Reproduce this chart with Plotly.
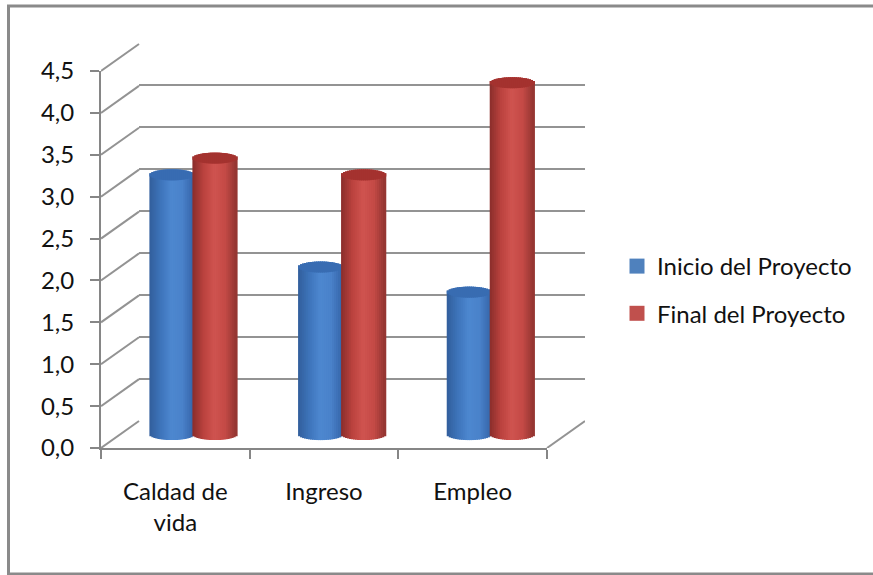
import math
import plotly.graph_objects as go

categories = ["Caldad de<br>vida", "Ingreso", "Empleo"]
inicio = [3.1, 2.0, 1.7]
final = [3.3, 3.1, 4.2]
y_ticks = [0, 0.5, 1, 1.5, 2, 2.5, 3, 3.5, 4, 4.5]

W, H = 873, 575
FONT = "Lato"
FS = 24
GREY = "#868686"
GRID = "#939393"
UX = (547 - 101) / 3        # pixels per category
UY = (448 - 71) / 4.5       # pixels per value unit


def dx(a, b):
    return [a / W, b / W]


def dy(bottom, top):
    return [(H - bottom) / H, (H - top) / H]


def mix(stops, t):
    n = len(stops) - 1
    i = min(int(t * n), n - 1)
    f = t * n - i
    c = [stops[i][k] + (stops[i + 1][k] - stops[i][k]) * f for k in range(3)]
    return "rgb(%d,%d,%d)" % tuple(c)


def cylinder(values, centre, stops, cap):
    """One series as narrow vertical strips, giving a shaded cylinder."""
    N = 22
    bw = 44 / UX
    ry = 5.5 / UY
    xs, bases, heights, colors = [], [], [], []
    cx, cb, ch = [], [], []
    for c, v in enumerate(values):
        for s in range(N):
            t = (s + 0.5) / N
            u = 2 * t - 1
            e = ry * math.sqrt(1 - u * u)
            x = c + centre + u * bw / 2
            xs.append(x)
            bases.append(-e)
            heights.append(v + 2 * e)
            colors.append(mix(stops, t))
            cx.append(x)
            cb.append(v - e)
            ch.append(2 * e)
    w = bw / N * 1.6
    return [
        go.Bar(x=xs, y=heights, base=bases, width=w, xaxis="x3", yaxis="y4",
               marker=dict(color=colors, line=dict(width=0)),
               showlegend=False, hoverinfo="skip"),
        go.Bar(x=cx, y=ch, base=cb, width=w, xaxis="x3", yaxis="y4",
               marker=dict(color=cap, line=dict(width=0)),
               showlegend=False, hoverinfo="skip"),
    ]


BLUE = [(50, 94, 156), (62, 116, 186), (78, 136, 208), (74, 130, 202), (54, 102, 170)]
RED = [(138, 46, 44), (186, 66, 62), (208, 84, 80), (196, 74, 70), (146, 52, 48)]

fig = go.Figure()

# diagonal lines on the side wall and floor
DEPTH_X = (139 - 101) / UX
DEPTH_Y = (448 - 421) / UY
for v in y_ticks:
    fig.add_trace(go.Scatter(x=[0, DEPTH_X], y=[v, v + DEPTH_Y], mode="lines",
                             xaxis="x3", yaxis="y3", showlegend=False, hoverinfo="skip",
                             line=dict(color=GRID, width=2)))
fig.add_trace(go.Scatter(x=[3, 3 + DEPTH_X], y=[0, DEPTH_Y], mode="lines",
                         xaxis="x3", yaxis="y3", showlegend=False, hoverinfo="skip",
                         line=dict(color=GRID, width=2)))

# invisible carriers so the back wall and the front axes get drawn
fig.add_trace(go.Scatter(x=[0], y=[0], mode="markers", marker=dict(opacity=0),
                         showlegend=False, hoverinfo="skip"))
fig.add_trace(go.Scatter(x=[0], y=[0], mode="markers", marker=dict(opacity=0),
                         xaxis="x2", yaxis="y2", showlegend=False, hoverinfo="skip"))

for tr in cylinder(inicio, (172 - 101) / UX, BLUE, "rgb(56,108,178)"):
    fig.add_trace(tr)
for tr in cylinder(final, (215 - 101) / UX, RED, "rgb(164,50,47)"):
    fig.add_trace(tr)

# legend entries
for name, col in (("Inicio del Proyecto", "#4f81bd"), ("Final del Proyecto", "#c0504d")):
    fig.add_trace(go.Scatter(x=[None], y=[None], mode="markers", name=name, legendgroup=name,
                             marker=dict(symbol="square", size=15, color=col)))

y3_top = (448 - 43) / UY
base_shift = (448 - 434.6) / UY

# open frame: top, left and bottom sides only (it runs off the right edge)
frame = "M %f %f L %f %f L %f %f L %f %f" % (
    1.01, (H - 6) / H, 8.5 / W, (H - 6) / H, 8.5 / W, (H - 574) / H, 1.01, (H - 574) / H)

fig.update_layout(
    width=W, height=H, autosize=False,
    margin=dict(l=0, r=0, t=0, b=0, autoexpand=False),
    paper_bgcolor="white", plot_bgcolor="rgba(0,0,0,0)",
    separators=",.",
    barmode="overlay",
    font=dict(family=FONT, size=FS, color="#111111"),
    xaxis=dict(domain=dx(101, 547), range=[0, 3],
               tickmode="array", tickvals=[0.5, 1.5, 2.5], ticktext=categories,
               ticks="", showgrid=False, zeroline=False,
               showline=True, linecolor=GREY, linewidth=2,
               tickfont=dict(size=FS, family=FONT), ticklabelstandoff=21,
               minor=dict(tickmode="array", tickvals=[0, 1, 2, 3], ticks="outside",
                          ticklen=9, tickwidth=2, tickcolor=GREY, showgrid=False)),
    yaxis=dict(domain=dy(448, 71), range=[0, 4.5],
               tickmode="array", tickvals=y_ticks, tickformat=".1f",
               ticks="outside", ticklen=9, tickwidth=2, tickcolor=GREY,
               showgrid=False, zeroline=False, showline=True, linecolor=GREY, linewidth=2,
               tickfont=dict(size=FS, family=FONT), ticklabelstandoff=11),
    xaxis2=dict(domain=dx(139, 585), range=[0, 3], anchor="y2", visible=False),
    yaxis2=dict(domain=dy(421, 43), range=[0, 4.5], anchor="x2",
                tickmode="array", tickvals=y_ticks, showgrid=True, gridcolor=GRID, gridwidth=2,
                zeroline=False, showticklabels=False, ticks="", showline=False),
    xaxis3=dict(domain=dx(101, 585), range=[0, (585 - 101) / UX], anchor="y3", visible=False),
    yaxis3=dict(domain=dy(448, 43), range=[0, y3_top], anchor="x3", visible=False),
    yaxis4=dict(domain=dy(448, 43), range=[-base_shift, y3_top - base_shift],
                anchor="x3", visible=False),
    legend=dict(x=617 / W, xanchor="left", y=(H - 244) / H, yanchor="top",
                font=dict(size=FS, family=FONT), itemwidth=30,
                tracegroupgap=13, bgcolor="rgba(0,0,0,0)"),
    shapes=[dict(type="path", xref="paper", yref="paper", path=frame,
                 line=dict(color="#8a8a8a", width=3), layer="below")],
)

fig.write_html("out.html", config=dict(displayModeBar=False),
               post_script="document.documentElement.style.overflow='hidden';document.body.style.margin='0';")
